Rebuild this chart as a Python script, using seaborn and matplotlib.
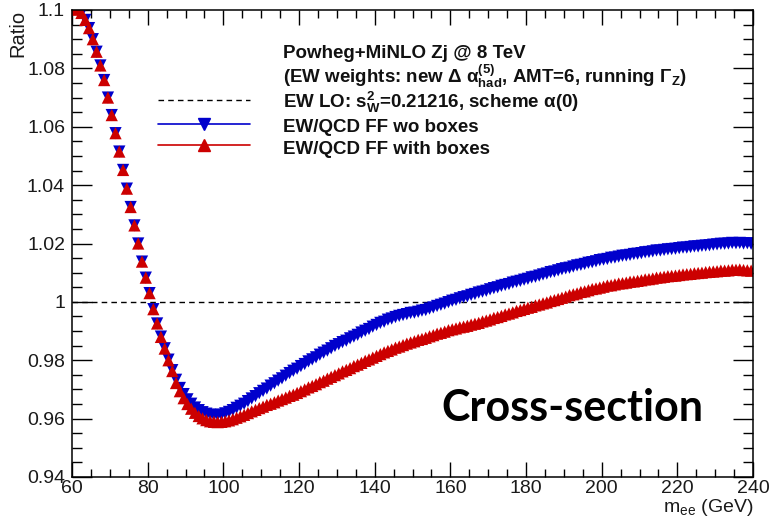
import numpy as np
import pandas as pd
import matplotlib
matplotlib.use("Agg")
import matplotlib.pyplot as plt
import seaborn as sns
from matplotlib.lines import Line2D
from matplotlib.ticker import MultipleLocator, FuncFormatter

# ---------------- data ----------------
bin_lo, bin_hi, bin_width = 60.0, 240.0, 1.0
mass = np.arange(bin_lo + bin_width / 2, bin_hi, bin_width)  # bin centres, m_ee [GeV]

ratio_wo_boxes = [
    1.1004, 1.1001, 1.0990, 1.0966, 1.0938, 1.0900, 1.0857, 1.0810, 1.0760, 1.0700,
    1.0640, 1.0578, 1.0515, 1.0452, 1.0388, 1.0325, 1.0262, 1.0200, 1.0138, 1.0083,
    1.0030, 0.9975, 0.9926, 0.9881, 0.9841, 0.9802, 0.9766, 0.9733, 0.9705, 0.9684,
    0.9666, 0.9651, 0.9638, 0.9629, 0.9622, 0.9617, 0.9614, 0.9612, 0.9612, 0.9614,
    0.9618, 0.9623, 0.9629, 0.9637, 0.9644, 0.9651, 0.9660, 0.9669, 0.9677, 0.9687,
    0.9695, 0.9703, 0.9713, 0.9721, 0.9730, 0.9738, 0.9747, 0.9756, 0.9764, 0.9771,
    0.9780, 0.9787, 0.9796, 0.9803, 0.9810, 0.9819, 0.9826, 0.9833, 0.9841, 0.9849,
    0.9855, 0.9862, 0.9867, 0.9875, 0.9881, 0.9887, 0.9895, 0.9901, 0.9907, 0.9915,
    0.9921, 0.9928, 0.9932, 0.9939, 0.9943, 0.9948, 0.9952, 0.9955, 0.9958, 0.9962,
    0.9963, 0.9966, 0.9970, 0.9972, 0.9977, 0.9981, 0.9986, 0.9990, 0.9994, 0.9999,
    1.0004, 1.0007, 1.0012, 1.0016, 1.0019, 1.0024, 1.0027, 1.0032, 1.0035, 1.0038,
    1.0043, 1.0047, 1.0050, 1.0055, 1.0058, 1.0061, 1.0066, 1.0069, 1.0072, 1.0076,
    1.0079, 1.0084, 1.0086, 1.0090, 1.0094, 1.0097, 1.0102, 1.0104, 1.0108, 1.0112,
    1.0115, 1.0117, 1.0121, 1.0125, 1.0127, 1.0130, 1.0134, 1.0136, 1.0139, 1.0143,
    1.0145, 1.0147, 1.0151, 1.0152, 1.0155, 1.0158, 1.0159, 1.0161, 1.0164, 1.0165,
    1.0167, 1.0170, 1.0171, 1.0173, 1.0176, 1.0176, 1.0178, 1.0180, 1.0181, 1.0182,
    1.0184, 1.0186, 1.0186, 1.0188, 1.0190, 1.0190, 1.0192, 1.0193, 1.0194, 1.0196,
    1.0197, 1.0199, 1.0199, 1.0200, 1.0202, 1.0201, 1.0202, 1.0200, 1.0201, 1.0199,
]

ratio_with_boxes = [
    1.1004, 1.1001, 1.0990, 1.0966, 1.0938, 1.0900, 1.0857, 1.0810, 1.0760, 1.0700,
    1.0640, 1.0578, 1.0515, 1.0452, 1.0388, 1.0325, 1.0262, 1.0200, 1.0138, 1.0083,
    1.0030, 0.9975, 0.9926, 0.9880, 0.9840, 0.9800, 0.9763, 0.9722, 0.9694, 0.9670,
    0.9650, 0.9634, 0.9620, 0.9609, 0.9601, 0.9595, 0.9591, 0.9589, 0.9588, 0.9589,
    0.9591, 0.9594, 0.9598, 0.9603, 0.9608, 0.9613, 0.9619, 0.9625, 0.9630, 0.9636,
    0.9641, 0.9647, 0.9651, 0.9656, 0.9662, 0.9667, 0.9672, 0.9678, 0.9682, 0.9688,
    0.9694, 0.9700, 0.9707, 0.9712, 0.9718, 0.9725, 0.9730, 0.9737, 0.9743, 0.9749,
    0.9755, 0.9762, 0.9767, 0.9773, 0.9780, 0.9785, 0.9791, 0.9798, 0.9803, 0.9809,
    0.9815, 0.9821, 0.9827, 0.9832, 0.9837, 0.9843, 0.9847, 0.9852, 0.9857, 0.9861,
    0.9865, 0.9870, 0.9873, 0.9877, 0.9882, 0.9886, 0.9891, 0.9894, 0.9898, 0.9903,
    0.9906, 0.9909, 0.9913, 0.9915, 0.9918, 0.9922, 0.9925, 0.9928, 0.9933, 0.9936,
    0.9940, 0.9945, 0.9948, 0.9952, 0.9957, 0.9960, 0.9964, 0.9969, 0.9972, 0.9976,
    0.9980, 0.9983, 0.9988, 0.9991, 0.9995, 0.9998, 1.0003, 1.0006, 1.0010, 1.0014,
    1.0018, 1.0023, 1.0026, 1.0029, 1.0034, 1.0036, 1.0040, 1.0044, 1.0046, 1.0049,
    1.0052, 1.0056, 1.0057, 1.0060, 1.0063, 1.0064, 1.0066, 1.0069, 1.0070, 1.0072,
    1.0074, 1.0077, 1.0078, 1.0080, 1.0083, 1.0084, 1.0086, 1.0088, 1.0089, 1.0090,
    1.0092, 1.0094, 1.0095, 1.0096, 1.0098, 1.0099, 1.0100, 1.0102, 1.0103, 1.0104,
    1.0105, 1.0107, 1.0107, 1.0108, 1.0110, 1.0110, 1.0111, 1.0109, 1.0108, 1.0107,
]

ew_lo_level = 1.0

legend_labels = [
    "Powheg+MiNLO Zj @ 8 TeV",
    r"(EW weights: new Δ α$^{\mathbf{(5)}}_{\mathbf{had}}$, AMT=6, running Γ$_{\mathbf{Z}}$)",
    r"EW LO: s$^{\mathbf{2}}_{\mathbf{W}}$=0.21216, scheme α(0)",
    "EW/QCD FF wo boxes",
    "EW/QCD FF with boxes",
]
x_title = r"m$_{\rm ee}$ (GeV)"
y_title = "Ratio"
annotation = "Cross-section"

blue = "#0000cc"
red = "#cc0000"

# ---------------- style ----------------
sns.set_style("ticks")
plt.rcParams["font.family"] = ["Liberation Sans", "DejaVu Sans"]
plt.rcParams["mathtext.fontset"] = "custom"
plt.rcParams["mathtext.rm"] = "Liberation Sans"
plt.rcParams["mathtext.it"] = "Liberation Sans"
plt.rcParams["mathtext.bf"] = "Liberation Sans:bold"

W, H = 771, 521
fig = plt.figure(figsize=(W / 100, H / 100), dpi=100)
fig.patch.set_facecolor("white")
L, R, T, B = 72, 753, 10, 477
ax = fig.add_axes([L / W, 1 - B / H, (R - L) / W, (B - T) / H])
ax.set_facecolor("white")

df = pd.DataFrame({"m": mass, "wo": ratio_wo_boxes, "with": ratio_with_boxes})

ax.axhline(ew_lo_level, color="black", ls=(0, (4, 3)), lw=1.0, zorder=2)
sns.scatterplot(data=df, x="m", y="wo", marker="v", s=78, color=blue,
                edgecolor="none", linewidth=0, ax=ax, zorder=3, legend=False)
sns.scatterplot(data=df, x="m", y="with", marker="^", s=78, color=red,
                edgecolor="none", linewidth=0, ax=ax, zorder=4, legend=False)

ax.set_xlim(bin_lo, bin_hi)
ax.set_ylim(0.94, 1.1)

ax.xaxis.set_major_locator(MultipleLocator(20))
ax.xaxis.set_minor_locator(MultipleLocator(5))
ax.yaxis.set_major_locator(MultipleLocator(0.02))
ax.yaxis.set_minor_locator(MultipleLocator(0.005))
ax.yaxis.set_major_formatter(FuncFormatter(lambda v, p: f"{round(v, 4):g}"))
ax.xaxis.set_major_formatter(FuncFormatter(lambda v, p: f"{round(v, 4):g}"))

ax.tick_params(axis="both", which="both", direction="in", top=True, right=True,
               left=True, bottom=True, colors="black", width=1.0,
               labelcolor="#1a1a1a", labelsize=14)
ax.tick_params(axis="y", which="major", length=14.5, pad=5)
ax.tick_params(axis="y", which="minor", length=7.2)
ax.tick_params(axis="x", which="major", length=10.5, pad=2)
ax.tick_params(axis="x", which="minor", length=5.5)
for s in ax.spines.values():
    s.set_visible(True)
    s.set_color("black")
    s.set_linewidth(1.1)
    s.set_zorder(6)

ax.set_xlabel(x_title, fontsize=14, color="#1a1a1a", ha="right")
ax.xaxis.set_label_coords(1.0, -0.043)
ax.set_ylabel(y_title, fontsize=14.5, color="#1a1a1a", ha="right")
ax.yaxis.set_label_coords(-0.066, 1.0)

handles = [
    Line2D([], [], color="none"),
    Line2D([], [], color="none"),
    Line2D([], [], color="black", ls=(0, (4, 3)), lw=1.0),
    Line2D([], [], color=blue, marker="v", ms=8.5, lw=1.2),
    Line2D([], [], color=red, marker="^", ms=8.5, lw=1.2),
]
leg = ax.legend(handles, legend_labels, loc="upper left",
                bbox_to_anchor=((158 - L) / (R - L), (B - 41) / (B - T)),
                frameon=False, prop={"weight": "bold", "size": 13.5},
                handlelength=4.9, handletextpad=1.75, labelspacing=0.0,
                handleheight=1.4, borderpad=0, borderaxespad=0)
for t in leg.get_texts():
    t.set_color("#111111")

fig.text(441 / W, 1 - 421 / H, annotation, fontsize=31, fontweight="bold",
         family=["Lato", "DejaVu Sans"], color="black", ha="left", va="baseline")

fig.savefig("out.png", dpi=100, facecolor="white")
